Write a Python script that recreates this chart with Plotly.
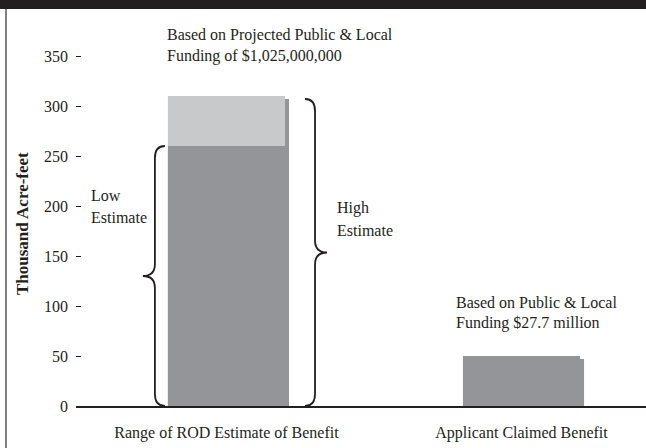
import plotly.graph_objects as go

# ---- data ----
categories = ["Range of ROD Estimate of Benefit", "Applicant Claimed Benefit"]
low_estimate = [260, None]
high_estimate = [310, None]
claimed = [None, 50]
y_ticks = [0, 50, 100, 150, 200, 250, 300, 350]

W, H = 646, 448
ML, MR, MT, MB = 76, 0, 26, 42
X_RANGE = [-0.51, 1.422]
Y_RANGE = [0, 380]
PXU = (W - ML - MR) / (X_RANGE[1] - X_RANGE[0])  # px per x unit
BW = 0.397

TXT = "#231f20"
DARK = "#939598"
LIGHT = "#c8c9cb"
FONT = "Liberation Serif"
FS = 16

def px(xp):
    return (xp - ML) / (W - ML - MR)

def py(yp):
    return (H - MB - yp) / (H - MT - MB)

xpos = list(range(len(categories)))
bar_vals = [high_estimate[0], claimed[1]]
dark_vals = [low_estimate[0], claimed[1]]

fig = go.Figure()
# drop shadow
fig.add_trace(go.Bar(x=xpos, y=[v - 3 for v in bar_vals], width=BW,
                     offset=-BW / 2 + 4 / PXU, marker=dict(color=DARK, line=dict(width=0)),
                     hoverinfo="skip", showlegend=False))
fig.add_trace(go.Bar(x=[xpos[0]], y=[high_estimate[0]], width=BW, offset=-BW / 2,
                     marker=dict(color=LIGHT, line=dict(width=0)), showlegend=False))
fig.add_trace(go.Bar(x=xpos, y=dark_vals, width=BW, offset=-BW / 2,
                     marker=dict(color=DARK, line=dict(width=0)), showlegend=False))

def brace(xv, y0, y1, side):
    # side=-1: tip points left ({), side=+1: tip points right (})
    c = -side * 10 / PXU
    t = side * 12 / PXU
    ym = (y0 + y1) / 2
    r = 12
    xe = xv + c
    return (f"M {xe},{y1} Q {xv},{y1} {xv},{y1 - r} L {xv},{ym + r} "
            f"Q {xv},{ym} {xv + t},{ym} Q {xv},{ym} {xv},{ym - r} "
            f"L {xv},{y0 + r} Q {xv},{y0} {xe},{y0}")

left_x = xpos[0] - BW / 2 - 13 / PXU
right_x = xpos[0] + BW / 2 + 30 / PXU
shapes = [
    dict(type="path", xref="x", yref="y", path=brace(left_x, 0, low_estimate[0], -1),
         line=dict(color=TXT, width=1.8)),
    dict(type="path", xref="x", yref="y", path=brace(right_x, 0, high_estimate[0] - 3, 1),
         line=dict(color=TXT, width=1.8)),
    # header band
    dict(type="rect", xref="paper", yref="paper", x0=px(0), x1=px(W), y0=py(9), y1=py(0),
         fillcolor=TXT, line=dict(width=0), layer="above"),
    # left frame line
    dict(type="line", xref="paper", yref="paper", x0=px(6), x1=px(6), y0=py(9), y1=py(H),
         line=dict(color="#555555", width=1.5)),
]

def note(text, x, y, size=FS, bold=False, angle=0, anchor="left"):
    return dict(text=f"<b>{text}</b>" if bold else text, xref="paper", yref="paper",
                x=px(x), y=py(y), xanchor=anchor, yanchor="middle", showarrow=False,
                textangle=angle, font=dict(family=FONT, size=size, color=TXT))

annotations = [
    note("Based on Projected Public &amp; Local", 165, 35),
    note("Funding of $1,025,000,000", 165, 56),
    note("Low", 89, 195),
    note("Estimate", 89, 217),
    note("High", 335, 208),
    note("Estimate", 335, 230),
    note("Based on Public &amp; Local", 454, 302),
    note("Funding $27.7 million", 454, 323),
    note("Thousand Acre-feet", 22, 224, size=17, bold=True, angle=-90, anchor="center"),
]

fig.update_layout(
    width=W, height=H, barmode="overlay",
    margin=dict(l=ML, r=MR, t=MT, b=MB, pad=0),
    paper_bgcolor="white", plot_bgcolor="white",
    font=dict(family=FONT, size=FS, color=TXT),
    showlegend=False, shapes=shapes, annotations=annotations,
    xaxis=dict(range=X_RANGE, tickvals=xpos, ticktext=categories, showgrid=False,
               zeroline=False, showline=True, linecolor=TXT, linewidth=1.5, ticks="",
               ticklabelstandoff=11, fixedrange=True),
    yaxis=dict(range=Y_RANGE, tickvals=y_ticks, showgrid=False, zeroline=False,
               showline=False, ticks="inside", ticklen=5, tickcolor=TXT, tickwidth=1,
               ticklabelstandoff=7, fixedrange=True),
)

fig.write_html("out.html", config={"displayModeBar": False})
